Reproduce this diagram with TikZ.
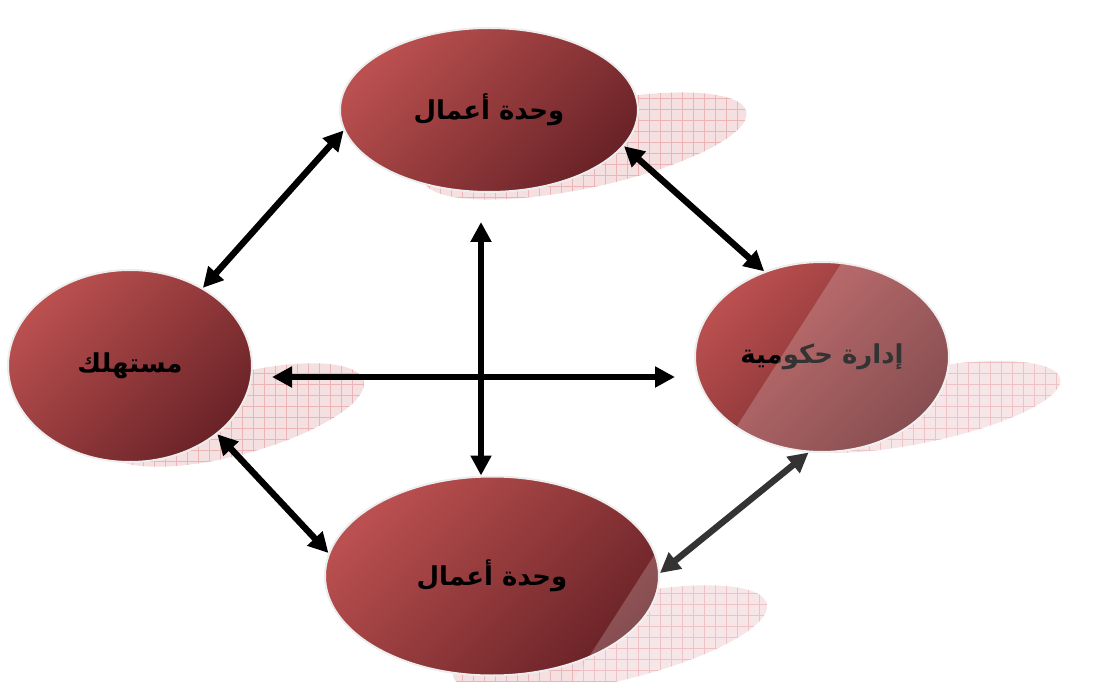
\documentclass[tikz,border=0pt]{standalone}
\usepackage{fontspec}
\usepackage{tikz}
\usetikzlibrary{shapes.geometric}
\usetikzlibrary{arrows.meta}
\usepackage{xcolor}
\newfontfamily\arabicfont[Script=Arabic]{DejaVu Sans}
\TeXXeTstate=1

\definecolor{unitlight}{HTML}{BB5050}
\definecolor{unitdark}{HTML}{6A2327}
\definecolor{unitrim}{HTML}{EDEDED}
\definecolor{shadowfill}{HTML}{F5E0E1}
\definecolor{shadowgrid}{HTML}{EBB5B7}

\tikzset{
	unit/.style={ellipse, draw=unitrim, line width=1pt, top color=unitlight, bottom color=unitdark, shading angle=45, inner sep=0pt, font=\arabicfont\bfseries\fontsize{13}{15}\selectfont},
	biarrow/.style={line width=3.2pt, {Triangle[length=10pt,width=10pt]}-{Triangle[length=10pt,width=10pt]}},
}

% centre x, centre y, x radius, y radius, angle
\newcommand{\gridshadow}[5]{%
	\begin{scope}
		\clip[rotate around={#5:(#1,#2)}] (#1,#2) ellipse [x radius=#3, y radius=#4];
		\fill[shadowfill] (#1-#3,#2-#3) rectangle (#1+#3,#2+#3);
		\draw[shadowgrid, line width=0.4pt, step=11] (#1-#3,#2-#3) grid (#1+#3,#2+#3);
	\end{scope}}

\begin{document}
\begin{tikzpicture}[x=0.5pt, y=0.5pt]
	\useasboundingbox (0,0) rectangle (1114,681);
	
	\gridshadow{585}{535}{165}{42}{12}
	\gridshadow{235}{266}{133}{40}{15}
	\gridshadow{915}{274}{148}{37}{11}
	\gridshadow{610}{41}{161}{42}{13}
	
	\node[unit, minimum width=149pt, minimum height=82pt] (topunit) at (489,571) {\beginR وحدة أعمال\endR};
	\node[unit, minimum width=122pt, minimum height=96pt] (consumer) at (130,315) {\beginR مستهلك\endR};
	\node[unit, minimum width=127pt, minimum height=95pt] (govadmin) at (822,324) {\beginR إدارة حكومية\endR};
	\node[unit, minimum width=167pt, minimum height=99.5pt] (bottomunit) at (492,105) {\beginR وحدة أعمال\endR};
	
	\coordinate (vtop) at (481,459);
	\coordinate (hleft) at (272,304);
	\coordinate (hright) at (675,304);
	
	\draw[biarrow] (topunit.188) -- (consumer.47);
	\draw[biarrow] (topunit.-15) -- (govadmin.124);
	\draw[biarrow] (consumer.-38) -- (bottomunit.172);
	\draw[biarrow] (bottomunit.1) -- (govadmin.262);
	\draw[biarrow] (vtop) -- (vtop |- bottomunit.north);
	\draw[biarrow] (hleft) -- (hright);
	
	\fill[white, opacity=0.2] (573.5,0) -- (1010,681) -- (1114,681) -- (1114,0) -- cycle;
	
\end{tikzpicture}
\end{document}
